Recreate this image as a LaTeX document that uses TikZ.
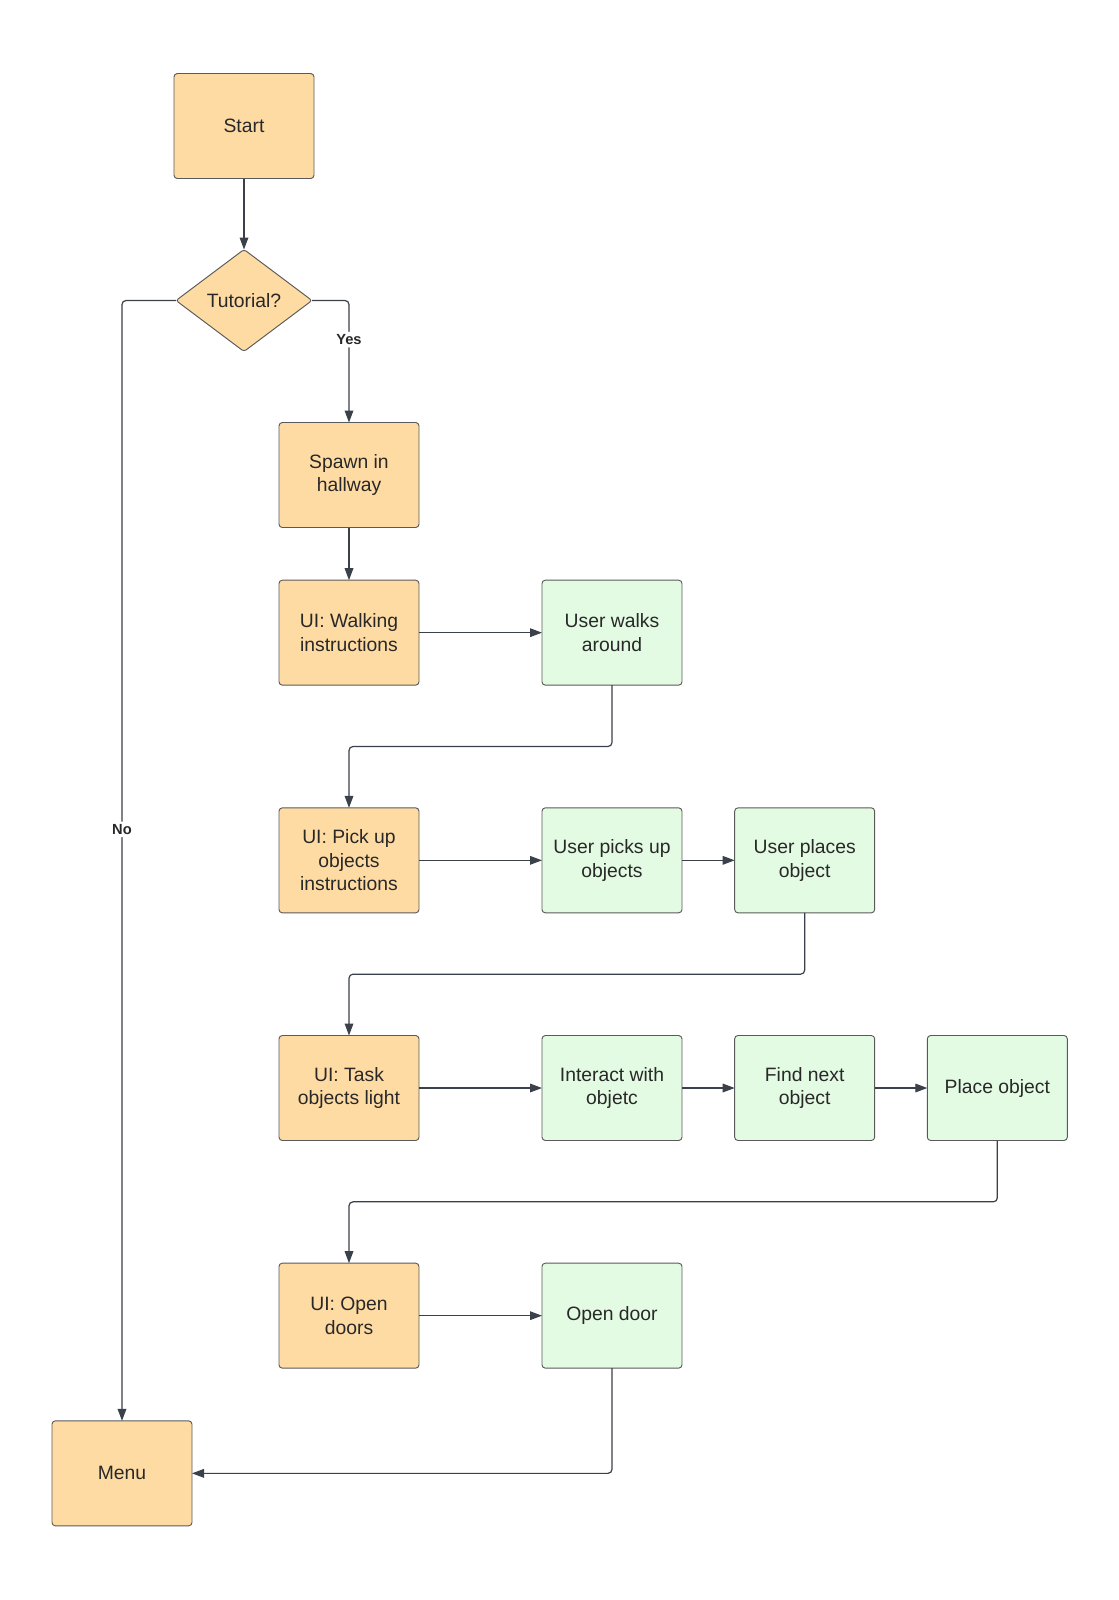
\documentclass[tikz,border=0pt]{standalone}
\usepackage{fontspec}
\setmainfont{Liberation Sans}
\usetikzlibrary{arrows.meta,positioning,shapes.geometric}
\definecolor{boxorange}{RGB}{255,219,164}
\definecolor{boxgreen}{RGB}{227,250,227}
\definecolor{edgegray}{RGB}{90,90,90}
\definecolor{linedark}{RGB}{58,65,74}
\definecolor{textdark}{RGB}{40,40,40}
\tikzset{
  procbox/.style={draw=edgegray, rounded corners=2.5pt, fill=boxorange,
                  align=center, minimum width=105pt, minimum height=78.75pt,
                  inner sep=2pt, outer sep=0pt, line width=0.7pt, text=textdark,
                  font=\fontsize{14.5}{17.6}\selectfont},
  userbox/.style={procbox, fill=boxgreen},
  decide/.style={procbox, diamond, rounded corners=2pt, minimum width=102pt,
                 minimum height=76.5pt, inner sep=0pt},
  arrow/.style={-{Triangle[length=9pt,width=6.5pt]}, line width=0.9pt,
                draw=linedark, rounded corners=3pt},
  branch/.style={font=\bfseries\fontsize{11}{13}\selectfont, fill=white,
                 text=textdark, inner sep=2pt}
}

\begin{document}
\begin{tikzpicture}[node distance=39.5pt]
  \useasboundingbox (0,0) rectangle (838.5pt,-1200pt);
  \node[procbox] (start) at (183pt,-94.5pt) {Start};
  \node[decide, below=53.25pt of start] (tut) {Tutorial?};
  \node[procbox, below=53.25pt of tut, xshift=78.75pt] (spawn) {Spawn in\\hallway};
  \node[procbox, below=of spawn] (walkui) {UI: Walking\\instructions};
  \node[userbox, right=92.25pt of walkui] (walk) {User walks\\around};
  \node[procbox, below=92pt of walkui] (pickui) {UI: Pick up\\objects\\instructions};
  \node[userbox, right=92.25pt of pickui] (pick) {User picks up\\objects};
  \node[userbox, right=of pick] (place) {User places\\object};
  \node[procbox, below=92pt of pickui] (taskui) {UI: Task\\objects light};
  \node[userbox, right=92.25pt of taskui] (interact) {Interact with\\objetc};
  \node[userbox, right=of interact] (findnext) {Find next\\object};
  \node[userbox, right=of findnext] (placeobj) {Place object};
  \node[procbox, below=92pt of taskui] (doorui) {UI: Open\\doors};
  \node[userbox, right=92.25pt of doorui] (door) {Open door};
  \node[procbox, below=of doorui, xshift=-170.25pt] (menu) {Menu};

  \draw[arrow] (start) -- (tut);
  \draw[arrow] (tut.east) -| node[branch, pos=0.66] {Yes} (spawn.north);
  \draw[arrow] (tut.west) -| node[branch, pos=0.736] {No} (menu.north);
  \draw[arrow] (spawn) -- (walkui);
  \draw[arrow] (walkui) -- (walk);
  \draw[arrow] (walk.south) -- ++(0,-46pt) -| (pickui.north);
  \draw[arrow] (pickui) -- (pick);
  \draw[arrow] (pick) -- (place);
  \draw[arrow] (place.south) -- ++(0,-46pt) -| (taskui.north);
  \draw[arrow] (taskui) -- (interact);
  \draw[arrow] (interact) -- (findnext);
  \draw[arrow] (findnext) -- (placeobj);
  \draw[arrow] (placeobj.south) -- ++(0,-46pt) -| (doorui.north);
  \draw[arrow] (doorui) -- (door);
  \draw[arrow] (door.south) |- (menu.east);
\end{tikzpicture}
\end{document}
